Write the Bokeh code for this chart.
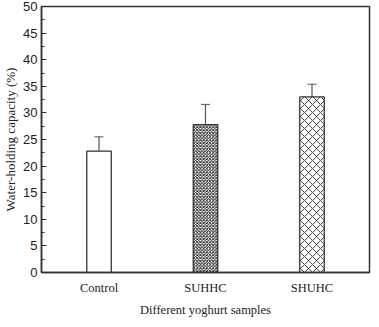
from bokeh.plotting import figure
from bokeh.models import ColumnDataSource, Whisker, FixedTicker, Range1d
from bokeh.embed import file_html
from bokeh.resources import INLINE

samples = ["Control", "SUHHC", "SHUHC"]
positions = [1, 2, 3]
capacity = [22.8, 27.8, 33.0]
err_upper = [25.5, 31.6, 35.4]
err_lower = [20.1, 24.0, 30.6]
hatches = [" ", "diagonal_cross", "diagonal_cross"]
hatch_scales = [6, 3.2, 8]
y_ticks = [0, 5, 10, 15, 20, 25, 30, 35, 40, 45, 50]

p = figure(width=371, height=319, output_backend="svg", toolbar_location=None,
           x_range=Range1d(0.46, 3.54), y_range=Range1d(0, 50),
           min_border_left=28, min_border_right=2, min_border_top=6, min_border_bottom=0)

for i in range(3):
    src = ColumnDataSource(dict(x=[positions[i]], top=[capacity[i]]))
    p.vbar(x="x", top="top", width=0.23, bottom=0, source=src,
           fill_color="white", line_color="#333333", line_width=1.3,
           hatch_pattern=hatches[i], hatch_scale=hatch_scales[i],
           hatch_color="#444444", hatch_weight=1.0)

esrc = ColumnDataSource(dict(x=positions, upper=err_upper, lower=err_lower))
w = Whisker(base="x", upper="upper", lower="lower", source=esrc,
            line_color="#555555", line_width=1.2)
w.upper_head.size = 9
w.lower_head.size = 9
w.upper_head.line_color = "#555555"
w.lower_head.line_color = "#555555"
p.add_layout(w)

p.grid.visible = False
p.outline_line_color = "#333333"
p.outline_line_width = 1.5

p.xaxis.ticker = FixedTicker(ticks=positions)
p.xaxis.major_label_overrides = {positions[i]: samples[i] for i in range(3)}
p.xaxis.major_tick_line_color = None
p.xaxis.minor_tick_line_color = None
p.xaxis.major_tick_in = 0
p.xaxis.major_tick_out = 0
p.xaxis.axis_line_color = "#333333"
p.xaxis.axis_line_width = 1.5
p.xaxis.major_label_text_font = "Liberation Serif"
p.xaxis.major_label_text_font_size = "12.5px"
p.xaxis.major_label_text_color = "#222222"
p.xaxis.major_label_standoff = 8
p.xaxis.axis_label = "Different yoghurt samples"
p.xaxis.axis_label_text_font = "Liberation Serif"
p.xaxis.axis_label_text_font_style = "normal"
p.xaxis.axis_label_text_font_size = "12.5px"
p.xaxis.axis_label_text_color = "#222222"
p.xaxis.axis_label_standoff = 5

p.yaxis.ticker = FixedTicker(ticks=y_ticks, minor_ticks=[t + 2.5 for t in y_ticks[:-1]])
p.yaxis.axis_line_color = "#333333"
p.yaxis.axis_line_width = 1.5
p.yaxis.major_tick_in = 5
p.yaxis.major_tick_out = 0
p.yaxis.minor_tick_in = 3
p.yaxis.minor_tick_out = 0
p.yaxis.major_tick_line_color = "#333333"
p.yaxis.minor_tick_line_color = "#333333"
p.yaxis.major_label_text_font = "Liberation Sans"
p.yaxis.major_label_text_font_size = "13px"
p.yaxis.major_label_text_color = "#222222"
p.yaxis.major_label_standoff = 4
p.yaxis.axis_label = "Water-holding capacity (%)"
p.yaxis.axis_label_text_font = "Liberation Serif"
p.yaxis.axis_label_text_font_style = "normal"
p.yaxis.axis_label_text_font_size = "13px"
p.yaxis.axis_label_text_color = "#222222"
p.yaxis.axis_label_standoff = 2

open("out.html", "w").write(file_html(p, INLINE))
